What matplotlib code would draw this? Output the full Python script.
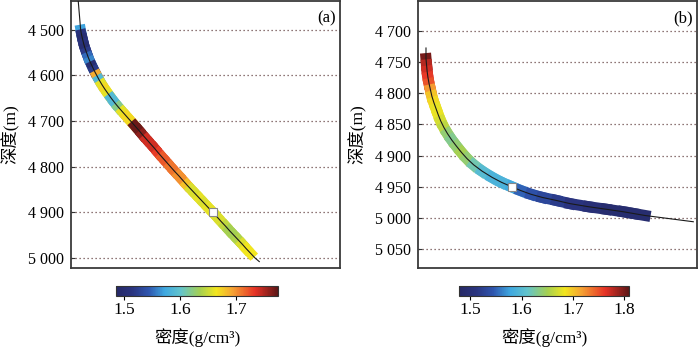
import numpy as np
import matplotlib
matplotlib.use("Agg")
import matplotlib.pyplot as plt
from matplotlib.collections import LineCollection
from matplotlib.colors import LinearSegmentedColormap, Normalize
from matplotlib.cm import ScalarMappable

plt.rcParams['font.family'] = ['Liberation Serif', 'Noto Sans CJK SC', 'DejaVu Sans']

# ---------------- data: panel (a) ----------------
a_depth = [4500, 4510, 4520, 4530, 4540, 4550, 4560, 4570, 4580, 4590,
           4600, 4610, 4620, 4630, 4640, 4650, 4660, 4670, 4680, 4690,
           4700, 4710, 4720, 4730, 4740, 4750, 4760, 4770, 4780, 4790,
           4800, 4810, 4820, 4830, 4840, 4850, 4860, 4870, 4880, 4890,
           4900, 4910, 4920, 4930, 4940, 4950, 4960, 4970, 4980, 4990]
a_offset = [0.036, 0.039, 0.043, 0.047, 0.052, 0.058, 0.064, 0.071, 0.079, 0.087,
            0.096, 0.105, 0.115, 0.126, 0.138, 0.150, 0.163, 0.177, 0.192, 0.207,
            0.222, 0.237, 0.252, 0.266, 0.281, 0.296, 0.311, 0.325, 0.340, 0.355,
            0.370, 0.385, 0.401, 0.416, 0.431, 0.447, 0.463, 0.479, 0.495, 0.511,
            0.527, 0.543, 0.558, 0.574, 0.589, 0.605, 0.621, 0.637, 0.652, 0.668]
a_density = [1.57, 1.51, 1.50, 1.51, 1.50, 1.52, 1.55, 1.56, 1.50, 1.52,
             1.69, 1.59, 1.66, 1.67, 1.66, 1.59, 1.59, 1.62, 1.66, 1.67,
             1.67, 1.77, 1.77, 1.76, 1.74, 1.74, 1.74, 1.73, 1.72, 1.72,
             1.71, 1.71, 1.70, 1.70, 1.68, 1.655, 1.655, 1.66, 1.655, 1.66,
             1.66, 1.655, 1.655, 1.645, 1.635, 1.635, 1.64, 1.655, 1.665, 1.67]
a_well_top = (4437, 0.027)
a_well_bottom = [(5000, 0.684), (5008, 0.700)]
a_marker = (4900, 0.527)
a_ticks = [4500, 4600, 4700, 4800, 4900, 5000]
a_ylim = (5022, 4437)
a_cbar = (1.485, 1.775)
a_cticks = [1.5, 1.6, 1.7]

# ---------------- data: panel (b) ----------------
b_depth = [4745, 4755, 4765, 4775, 4785, 4795, 4805, 4815, 4825, 4835,
           4845, 4855, 4865, 4875, 4885, 4895, 4905, 4915, 4925, 4935,
           4943, 4950, 4956, 4962, 4967, 4972, 4977, 4982, 4986, 4990,
           4993, 4996]
b_offset = [0.029, 0.031, 0.033, 0.036, 0.040, 0.045, 0.050, 0.057, 0.065, 0.073,
            0.082, 0.093, 0.106, 0.121, 0.138, 0.156, 0.176, 0.200, 0.230, 0.266,
            0.300, 0.336, 0.368, 0.405, 0.445, 0.497, 0.545, 0.612, 0.675, 0.736,
            0.775, 0.814]
b_density = [1.80, 1.78, 1.77, 1.76, 1.75, 1.72, 1.70, 1.69, 1.68, 1.68,
             1.67, 1.66, 1.64, 1.63, 1.64, 1.65, 1.64, 1.62, 1.60, 1.59,
             1.59, 1.58, 1.55, 1.54, 1.53, 1.52, 1.51, 1.50, 1.49, 1.49,
             1.49, 1.49]
b_well_top = (4728, 0.029)
b_well_bottom = [(5006, 0.987)]
b_marker = (4950, 0.336)
b_ticks = [4700, 4750, 4800, 4850, 4900, 4950, 5000, 5050]
b_ylim = (5080, 4653)
b_cbar = (1.478, 1.81)
b_cticks = [1.5, 1.6, 1.7, 1.8]

# ---------------- style ----------------
cmap = LinearSegmentedColormap.from_list('dens', [
    (0.00, '#262966'), (0.10, '#2a347f'), (0.20, '#2e55ae'), (0.30, '#3fa8e0'),
    (0.40, '#62c4cc'), (0.52, '#a6d050'), (0.62, '#f2e61e'), (0.72, '#f5a232'),
    (0.86, '#e63226'), (1.00, '#5c1616')])

fig = plt.figure(figsize=(7.0, 3.47), dpi=100)

def fmt(v):
    s = str(int(v))
    return s[0] + ' ' + s[1:]

def panel(rect, crect, depth, offset, dens, top, bottom, marker, ticks, ylim,
          crange, cticks, letter, bandw):
    ax = fig.add_axes(rect)
    norm = Normalize(*crange)
    pts = np.column_stack([offset, depth])
    segs = np.stack([pts[:-1], pts[1:]], axis=1)
    lc = LineCollection(segs, cmap=cmap, norm=norm, linewidths=bandw,
                        capstyle='projecting', zorder=3)
    lc.set_array(np.asarray(dens[:-1]))
    ax.add_collection(lc)
    wx = [top[1]] + list(offset) + [b[1] for b in bottom]
    wy = [top[0]] + list(depth) + [b[0] for b in bottom]
    ax.plot(wx, wy, color='#1a1a1a', lw=0.8, zorder=4)
    ax.plot([marker[1]], [marker[0]], marker='s', ms=6, mfc='white',
            mec='#888888', mew=0.8, zorder=5)
    ax.set_xlim(0, 1)
    ax.set_ylim(*ylim)
    ax.set_xticks([])
    ax.set_yticks(ticks)
    ax.set_yticklabels([fmt(t) for t in ticks], fontsize=11.5)
    ax.tick_params(axis='y', direction='in', length=3, pad=5, color='#333333')
    ax.grid(axis='y', linestyle=(0, (1, 2.2)), color='#6a4a4a', lw=0.9)
    for s in ax.spines.values():
        s.set_color('#3a3a3a')
        s.set_linewidth(1.3)
    ax.set_ylabel('深度(m)', fontsize=12.5, labelpad=6)
    ax.text(0.985, 0.965, letter, transform=ax.transAxes, ha='right', va='top',
            fontsize=12)
    cax = fig.add_axes(crect)
    cb = fig.colorbar(ScalarMappable(norm=norm, cmap=cmap), cax=cax,
                      orientation='horizontal', ticks=cticks)
    cb.outline.set_linewidth(0.8)
    cb.outline.set_edgecolor('#333333')
    cax.tick_params(length=3, width=0.8, labelsize=12.5, pad=1)
    cax.set_xticklabels([str(c) for c in cticks])
    cb.set_label('密度(g/cm³)', fontsize=12.5, labelpad=8)

panel([0.1014, 0.2277, 0.3843, 0.769], [0.1657, 0.147, 0.2314, 0.0297],
      a_depth, a_offset, a_density, a_well_top, a_well_bottom, a_marker,
      a_ticks, a_ylim, a_cbar, a_cticks, '(a)', 7.5)
panel([0.597, 0.2277, 0.3986, 0.769], [0.656, 0.147, 0.243, 0.0297],
      b_depth, b_offset, b_density, b_well_top, b_well_bottom, b_marker,
      b_ticks, b_ylim, b_cbar, b_cticks, '(b)', 8)

fig.savefig('out.png', dpi=100)
